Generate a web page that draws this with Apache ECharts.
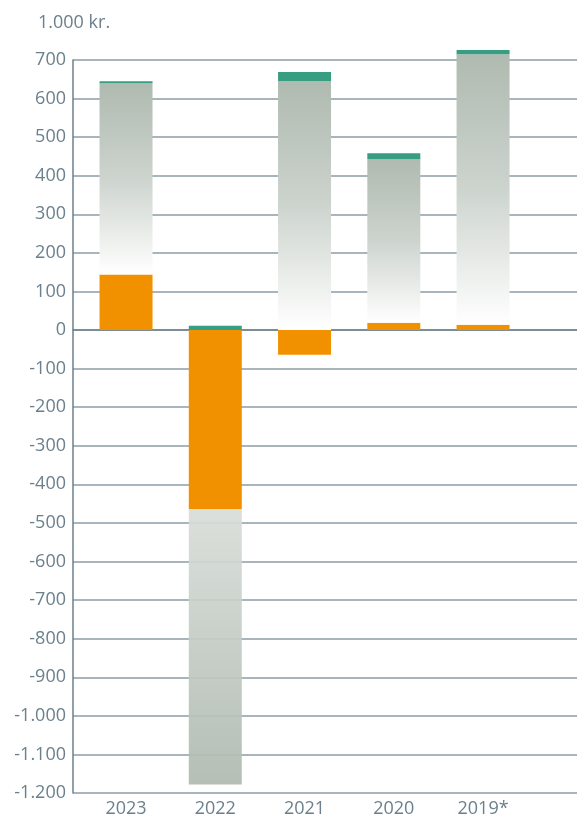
<!DOCTYPE html>
<html>
<head>
<meta charset="utf-8">
<script src="https://cdn.jsdelivr.net/npm/echarts@6/dist/echarts.min.js"></script>
<style>
html,body{margin:0;padding:0;background:#fff;}
#c{width:577px;height:818px;}
</style>
</head>
<body>
<div id="c"></div>
<script>
var categories = ['2023', '2022', '2021', '2020', '2019*'];
var orangeValues = [144, -464, -64, 19, 14];
var grayValues = [496, -714, 645, 424, 701];
var greenValues = [5, 11, 24, 15, 11];
var unitLabel = '1.000 kr.';

var textColor = '#6b808c';
var font = 'Open Sans';

function fmt(v) {
  var s = Math.abs(v).toString();
  if (s.length > 3) s = s.slice(0, s.length - 3) + '.' + s.slice(s.length - 3);
  return (v < 0 ? '-' : '') + s;
}

var grayData = grayValues.map(function (v) {
  var grad = v >= 0
    ? new echarts.graphic.LinearGradient(0, 0, 0, 1, [
        { offset: 0, color: '#afbab0' },
        { offset: 0.5, color: '#cdd4ce' },
        { offset: 1, color: '#ffffff' }
      ])
    : new echarts.graphic.LinearGradient(0, 0, 0, 1, [
        { offset: 0, color: '#d8ddd8' },
        { offset: 1, color: '#afbab0' }
      ]);
  return { value: v, itemStyle: { color: grad, opacity: v >= 0 ? 1 : 0.92 } };
});

var chart = echarts.init(document.getElementById('c'), null, { renderer: 'canvas' });
chart.setOption({
  animation: false,
  title: {
    text: unitLabel, left: 33, top: 9,
    textStyle: { color: textColor, fontSize: 18, fontWeight: 'normal', fontFamily: font }
  },
  grid: [
    { left: 73, right: 0, top: 60, bottom: 25 },
    { left: 81.4, right: 49.3, top: 60, bottom: 25 }
  ],
  xAxis: [
    {
      gridIndex: 0, type: 'category', data: [''],
      axisLine: { show: true, lineStyle: { color: '#6d808b', width: 1.5 } },
      axisTick: { show: false }, axisLabel: { show: false }, splitLine: { show: false }
    },
    {
      gridIndex: 1, type: 'category', data: categories,
      axisLine: { show: false }, axisTick: { show: false },
      axisLabel: { color: textColor, fontSize: 18, fontFamily: font, margin: 7 }
    }
  ],
  yAxis: [
    {
      gridIndex: 0, type: 'value', min: -1200, max: 700, interval: 100,
      axisLine: { show: true, lineStyle: { color: '#6d808b', width: 1.5 } },
      axisTick: { show: false },
      axisLabel: { color: textColor, fontSize: 18, fontFamily: font, margin: 7, formatter: fmt },
      splitLine: { show: true, lineStyle: { color: '#8d9da6', width: 1.5 } }
    },
    {
      gridIndex: 1, type: 'value', min: -1200, max: 700, interval: 100,
      show: false, splitLine: { show: false }
    }
  ],
  series: [
    {
      type: 'bar', xAxisIndex: 1, yAxisIndex: 1, stack: 's', barWidth: 53, clip: false,
      data: orangeValues, itemStyle: { color: '#f29100' }
    },
    {
      type: 'bar', xAxisIndex: 1, yAxisIndex: 1, stack: 's', barWidth: 53, clip: false,
      data: grayData
    },
    {
      type: 'bar', xAxisIndex: 1, yAxisIndex: 1, stack: 's', barWidth: 53, clip: false,
      data: greenValues, itemStyle: { color: '#389e82' }
    }
  ]
});
</script>
</body>
</html>
